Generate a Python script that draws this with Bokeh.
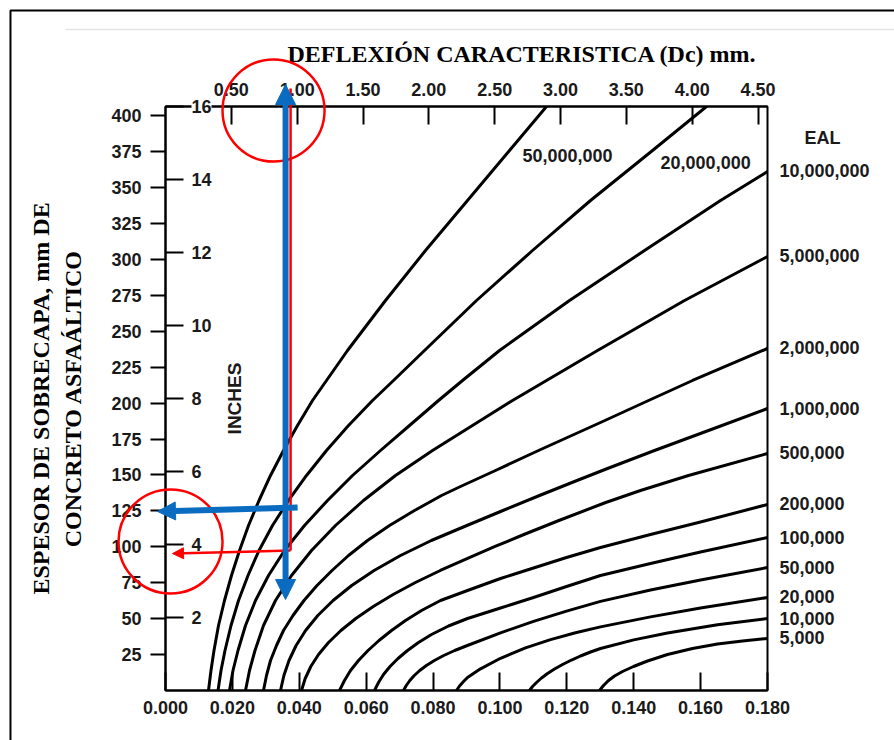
import numpy as np
from bokeh.plotting import figure
from bokeh.models import (Range1d, LinearAxis, FixedTicker, NumeralTickFormatter, ColumnDataSource,
                          LabelSet, Label, Arrow, NormalHead, Title)
from bokeh.core.properties import value
from bokeh.embed import file_html
from bokeh.resources import INLINE

# ---------------- axes / ticks ----------------
x_ticks_in = [0.000, 0.020, 0.040, 0.060, 0.080, 0.100, 0.120, 0.140, 0.160, 0.180]   # bottom (inches)
x_ticks_mm = [0.50, 1.00, 1.50, 2.00, 2.50, 3.00, 3.50, 4.00, 4.50]                   # top Dc (mm)
y_ticks_mm = [25, 50, 75, 100, 125, 150, 175, 200, 225, 250, 275, 300, 325, 350, 375, 400]
y_ticks_in = [2, 4, 6, 8, 10, 12, 14, 16]

# ---------------- EAL curves (x: deflection, in ; y: overlay thickness, mm) ----------------
eal_50m_x = [0.01286, 0.01360, 0.01450, 0.01585, 0.01764, 0.01973, 0.02213, 0.02482, 0.02796, 0.03140,
             0.03528, 0.03947, 0.04395, 0.04814, 0.05442, 0.06578, 0.07774, 0.09030, 0.10286, 0.11392]
eal_50m_y = [0, 13.92, 27.84, 45.23, 62.63, 80.03, 97.43, 114.82, 132.22, 149.62,
             167.01, 184.41, 201.81, 215.73, 236.60, 271.40, 306.19, 340.99, 375.78, 406.40]
eal_20m_x = [0.01570, 0.01660, 0.01779, 0.01959, 0.02183, 0.02467, 0.02796, 0.03199, 0.03678, 0.04216,
             0.04814, 0.05472, 0.06190, 0.06817, 0.07744, 0.09299, 0.10974, 0.12708, 0.14562, 0.16176]
eal_20m_y = [0, 13.92, 27.84, 45.23, 62.63, 80.03, 97.43, 114.82, 132.22, 149.62,
             167.01, 184.41, 201.81, 215.73, 236.60, 271.40, 306.19, 340.99, 375.78, 406.40]
eal_10m_x = [0.01914, 0.02018, 0.02168, 0.02392, 0.02691, 0.03080, 0.03558, 0.04156, 0.04844, 0.05592,
             0.06429, 0.07296, 0.08163, 0.08881, 0.09987, 0.12080, 0.14323, 0.16595, 0.18000]
eal_10m_y = [0, 13.92, 27.84, 45.23, 62.63, 80.03, 97.43, 114.82, 132.22, 149.62,
             167.01, 184.41, 201.81, 215.73, 236.60, 271.40, 306.19, 340.99, 361.17]
eal_5m_x = [0.02392, 0.02512, 0.02676, 0.02930, 0.03289, 0.03768, 0.04366, 0.05083, 0.05920, 0.06877,
            0.07984, 0.08940, 0.10376, 0.11392, 0.12917, 0.15519, 0.18000]
eal_5m_y = [0, 13.92, 27.84, 45.23, 62.63, 80.03, 97.43, 114.82, 132.22, 149.62,
            167.01, 180.93, 201.81, 215.73, 236.60, 271.40, 302.02]
eal_2m_x = [0.02930, 0.03020, 0.03140, 0.03319, 0.03528, 0.03812, 0.04141, 0.04530, 0.04979, 0.05472, 0.06040,
            0.06698, 0.07445, 0.08253, 0.08821, 0.09867, 0.11153, 0.13007, 0.14443, 0.15759, 0.18000]
eal_2m_y = [0, 10.44, 20.88, 31.32, 41.75, 52.19, 62.63, 73.07, 83.51, 93.95, 104.38,
            114.82, 125.26, 135.70, 141.96, 153.10, 167.01, 186.50, 201.81, 215.73, 238.00]
eal_1m_x = [0.03439, 0.03540, 0.03693, 0.03905, 0.04189, 0.04554, 0.05011, 0.05568, 0.06237, 0.07027,
            0.07948, 0.09012, 0.10089, 0.11183, 0.12304, 0.13216, 0.14622, 0.16236, 0.18000]
eal_1m_y = [0, 10.44, 20.88, 31.32, 41.75, 52.19, 62.63, 73.07, 83.51, 93.95,
            104.38, 114.82, 125.26, 135.70, 146.14, 154.49, 167.01, 180.93, 196.24]
eal_500k_x = [0.04067, 0.04177, 0.04345, 0.04575, 0.04874, 0.05245, 0.05690, 0.06213, 0.06806, 0.07472,
              0.08217, 0.09033, 0.09855, 0.10717, 0.11763, 0.13163, 0.14203, 0.15638, 0.18000]
eal_500k_y = [0, 8.35, 16.70, 25.05, 33.40, 41.75, 50.10, 58.45, 66.81, 75.16,
              83.51, 91.86, 100.21, 108.56, 118.30, 130.83, 139.18, 149.62, 164.93]
eal_200k_x = [0.05203, 0.05352, 0.05532, 0.05771, 0.06055, 0.06384, 0.06758, 0.07176, 0.07655, 0.08223,
              0.09030, 0.10017, 0.11004, 0.11990, 0.13007, 0.14502, 0.15997, 0.18000]
eal_200k_y = [0, 6.96, 13.92, 20.88, 27.84, 34.79, 41.75, 48.71, 55.67, 62.63,
              69.59, 77.94, 85.25, 92.55, 99.51, 108.56, 117.26, 129.44]
eal_100k_x = [0.06249, 0.06369, 0.06518, 0.06713, 0.06952, 0.07236, 0.07565, 0.07954, 0.08462,
              0.09030, 0.10017, 0.11004, 0.11990, 0.13007, 0.14502, 0.15997, 0.18000]
eal_100k_y = [0, 5.57, 11.13, 16.70, 22.27, 27.84, 33.40, 38.97, 44.88,
              50.10, 57.41, 64.72, 72.37, 80.03, 88.38, 96.38, 106.47]
eal_50k_x = [0.07116, 0.07199, 0.07306, 0.07438, 0.07602, 0.07800, 0.08039, 0.08319, 0.08647,
             0.09026, 0.10017, 0.11004, 0.11990, 0.13007, 0.14502, 0.15997, 0.18000]
eal_50k_y = [0, 3.48, 6.96, 10.44, 13.92, 17.40, 20.88, 24.36, 27.84,
             31.32, 40.15, 48.09, 55.25, 62.00, 69.94, 76.90, 85.59]
eal_20k_x = [0.08701, 0.08791, 0.08911, 0.09030, 0.09419, 0.10017, 0.10764, 0.11512, 0.12259,
             0.13007, 0.14502, 0.15997, 0.18000]
eal_20k_y = [0, 3.13, 6.26, 9.05, 15.10, 22.41, 29.64, 35.42, 40.22,
             44.26, 51.22, 57.41, 64.72]
eal_10k_x = [0.10884, 0.10974, 0.11093, 0.11243, 0.11422, 0.11632, 0.11871, 0.12140, 0.12409, 0.12708,
             0.13007, 0.14000, 0.15010, 0.16505, 0.18000]
eal_10k_y = [0, 2.78, 5.57, 8.70, 11.83, 14.96, 18.09, 21.22, 24.01, 26.79,
             29.23, 35.21, 40.01, 45.79, 50.10]
eal_5k_x = [0.12977, 0.13097, 0.13246, 0.13426, 0.13665, 0.13994, 0.14412, 0.15010, 0.15758, 0.16505,
            0.17253, 0.18000]
eal_5k_y = [0, 3.48, 6.96, 10.09, 13.22, 16.70, 20.53, 25.05, 29.23, 32.36, 34.45, 36.19]

# labels of the two curves that leave through the top (placed inside the plot)
inner_labels = ["50,000,000", "20,000,000"]
inner_label_x = [0.1202, 0.1615]
inner_label_y = [372.3, 367.4]

right_labels = ["10,000,000", "5,000,000", "2,000,000", "1,000,000", "500,000", "200,000",
                "100,000", "50,000", "20,000", "10,000", "5,000"]
eal_header_y = 384.8

# hand-drawn annotation overlay (data units: in / mm)
circle_cx = [0.0323, 0.0015]
circle_cy = [403.6, 103.7]
circle_rx = [0.01525, 0.01555]
circle_ry = [35.5, 36.2]
blue_v = dict(x_start=0.0359, y_start=63.3, x_end=0.0359, y_end=421.7)
blue_h = dict(x_start=0.0395, y_start=127.3, x_end=-0.0024, y_end=124.6)
red_v = dict(x_start=0.0374, y_start=418.9, x_end=0.0374, y_end=97.4)
red_h = dict(x_start=0.0374, y_start=97.4, x_end=0.0021, y_end=95.3)
page_x = [-0.04635, -0.04635, 0.2198]      # page frame: left edge then top edge
page_y = [-48.7, 473.2, 473.2]
rule_x = [-0.0299, 0.2198]                 # faint rule under the page top
rule_y = [460.0, 460.0]

curves = [
    (eal_50m_x, eal_50m_y), (eal_20m_x, eal_20m_y), (eal_10m_x, eal_10m_y), (eal_5m_x, eal_5m_y),
    (eal_2m_x, eal_2m_y), (eal_1m_x, eal_1m_y), (eal_500k_x, eal_500k_y), (eal_200k_x, eal_200k_y),
    (eal_100k_x, eal_100k_y), (eal_50k_x, eal_50k_y), (eal_20k_x, eal_20k_y), (eal_10k_x, eal_10k_y),
    (eal_5k_x, eal_5k_y),
]

SANS = "Liberation Sans"
SERIF = "Liberation Serif"
TXT = "#1a1a1a"
W, H = 894, 740
ML, MR, MT, MB = 165, 127, 106, 50
X0, X1 = 0, 0.18
Y0, Y1 = 0, 16 * 25.4

p = figure(width=W, height=H, output_backend="svg", toolbar_location=None,
           x_range=Range1d(X0, X1), y_range=Range1d(Y0, Y1),
           min_border_left=ML, min_border_right=MR, min_border_top=MT, min_border_bottom=MB,
           background_fill_color="white", border_fill_color="white")
p.extra_x_ranges = {"mm": Range1d(X0 * 25.4, X1 * 25.4)}
p.xgrid.visible = False
p.ygrid.visible = False
p.outline_line_color = "black"
p.outline_line_width = 2


def style_labels(ax, size="18px"):
    ax.major_label_text_font = SANS
    ax.major_label_text_font_size = size
    ax.major_label_text_font_style = "bold"
    ax.major_label_text_color = TXT


# bottom axis (inches)
xa = p.xaxis[0]
xa.ticker = FixedTicker(ticks=x_ticks_in)
xa.formatter = NumeralTickFormatter(format="0.000")
xa.major_tick_in = 18
xa.major_tick_out = 0
xa.minor_tick_line_color = None
xa.major_tick_line_width = 2
xa.axis_line_width = 2
xa.major_label_standoff = 10
style_labels(xa)

# top axis (Dc mm)
ta = LinearAxis(x_range_name="mm", ticker=FixedTicker(ticks=x_ticks_mm),
                formatter=NumeralTickFormatter(format="0.00"))
ta.major_tick_in = 18
ta.major_tick_out = 0
ta.minor_tick_line_color = None
ta.major_tick_line_width = 2
ta.axis_line_width = 2
ta.major_label_standoff = 11
style_labels(ta)
p.add_layout(ta, "above")
p.add_layout(Title(text="DEFLEXIÓN CARACTERISTICA (Dc) mm.", align="left", offset=122, standoff=26,
                   text_font=SERIF, text_font_size="24px", text_font_style="bold", text_color="black"),
             "above")

# left axis (mm) with inch ticks as inner minor ticks
ya = p.yaxis[0]
ya.ticker = FixedTicker(ticks=y_ticks_mm, minor_ticks=[v * 25.4 for v in y_ticks_in])
ya.major_tick_in = 0
ya.major_tick_out = 15
ya.minor_tick_in = 18
ya.minor_tick_out = 0
ya.major_tick_line_width = 2
ya.minor_tick_line_width = 2
ya.minor_tick_line_color = "black"
ya.axis_line_width = 2
ya.major_label_standoff = 9
style_labels(ya)
ya.axis_label = "ESPESOR DE SOBRECAPA, mm DE\nCONCRETO ASFAÁLTICO"
ya.axis_label_text_font = SERIF
ya.axis_label_text_font_size = "24px"
ya.axis_label_text_font_style = "bold"
ya.axis_label_text_color = "black"
ya.axis_label_text_line_height = 1.25
ya.axis_label_standoff = 22

# right axis: EAL labels at the ends of the curves
end_y = [c[1][-1] for c in curves[2:]]
ra = LinearAxis(ticker=FixedTicker(ticks=end_y + [eal_header_y]))
ra.major_label_overrides = {**{y: t for y, t in zip(end_y, right_labels)},
                            eal_header_y: "\u00a0" * 5 + "EAL"}
ra.major_tick_line_color = None
ra.minor_tick_line_color = None
ra.axis_line_color = None
ra.major_label_standoff = 6
style_labels(ra)
p.add_layout(ra, "right")

# curves
for cx, cy in curves:
    p.line(cx, cy, line_color="black", line_width=3, line_join="round", line_cap="round")

inner_src = ColumnDataSource(dict(x=inner_label_x, y=inner_label_y, text=inner_labels))
p.add_layout(LabelSet(x="x", y="y", text="text", source=inner_src,
                      text_align="center", text_baseline="middle",
                      text_font=value(SANS), text_font_size="18px", text_font_style="bold",
                      text_color=TXT))

p.add_layout(Label(x=0.0206, y=203.2, text="INCHES", angle=np.pi / 2, text_align="center",
                   text_baseline="middle", text_font=SANS, text_font_size="19px",
                   text_font_style="bold", text_color=TXT))

# ---------- transparent overlay figure with the same data->screen mapping over the whole page ----------
fw, fh = W - ML - MR, H - MT - MB
sx, sy = (X1 - X0) / fw, (Y1 - Y0) / fh
qy0, qy1 = Y0 - MB * sy, Y1 + MT * sy
q = figure(width=W, height=H, output_backend="svg", toolbar_location=None,
           x_range=Range1d(X0 - ML * sx, X1 + MR * sx), y_range=Range1d(qy0, qy1),
           x_axis_location=None, y_axis_location=None,
           min_border_left=0, min_border_right=0, min_border_top=0, min_border_bottom=0,
           background_fill_color=None, border_fill_color=None, outline_line_color=None)
q.extra_y_ranges = {"inch": Range1d(qy0 / 25.4, qy1 / 25.4)}
q.grid.visible = False
q.styles = {"position": "absolute", "left": "0px", "top": "0px", "pointer-events": "none"}

q.line(rule_x, rule_y, line_color="#e4e4e4", line_width=1.5)
q.line(page_x, page_y, line_color="black", line_width=2)

# inch scale labels, just inside the left edge of the plot
inch_src = ColumnDataSource(dict(x=[X0] * len(y_ticks_in), y=y_ticks_in, text=[str(v) for v in y_ticks_in]))
q.add_layout(LabelSet(x="x", y="y", text="text", source=inch_src, y_range_name="inch",
                      x_offset=26, text_align="left", text_baseline="middle",
                      text_font=value(SANS), text_font_size="18px", text_font_style="bold",
                      text_color=TXT, background_fill_color="white"))

RED = "#ff0000"
q.ellipse(x=circle_cx, y=circle_cy, width=[2 * r for r in circle_rx], height=[2 * r for r in circle_ry],
          fill_color=None, line_color=RED, line_width=2.5)
q.add_layout(Arrow(end=None, line_color=RED, line_width=2.5, **red_v))
q.add_layout(Arrow(end=NormalHead(size=11, fill_color=RED, line_color=RED),
                   line_color=RED, line_width=2.5, **red_h))
BLUE = "#0a6cc0"
q.add_layout(Arrow(start=NormalHead(size=20, fill_color=BLUE, line_color=BLUE),
                   end=NormalHead(size=20, fill_color=BLUE, line_color=BLUE),
                   line_color=BLUE, line_width=6, **blue_v))
q.add_layout(Arrow(end=NormalHead(size=18, fill_color=BLUE, line_color=BLUE),
                   line_color=BLUE, line_width=6, **blue_h))

open("out.html", "w").write(file_html([p, q], INLINE))
